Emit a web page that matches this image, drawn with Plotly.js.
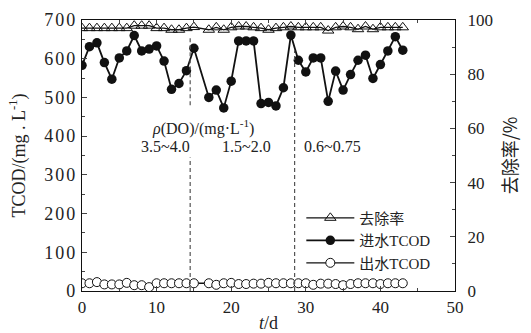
<!DOCTYPE html>
<html>
<head>
<meta charset="utf-8">
<script src="https://cdn.plot.ly/plotly-3.0.1.min.js"></script>
<style>html,body{margin:0;padding:0;background:#fff;}#chart{width:531px;height:333px;}
.ytick text{letter-spacing:2px;}</style>
</head>
<body>
<div id="chart"></div>
<script>
// ---- data ----
const days = [0,1,2,3,4,5,6,7,8,9,10,11,12,13,14,15,17,18,19,20,21,22,23,24,25,26,27,28,29,30,31,32,33,34,35,36,37,38,39,40,41,42,43];
const influentTCOD = [583,631,641,590,547,602,620,660,620,625,633,594,521,536,569,627,500,519,473,542,646,646,646,484,487,478,525,661,596,566,602,602,490,568,519,559,596,609,549,585,620,657,622];
const effluentTCOD = [20,20,23,17,17,17,21,15,15,10,20,20,20,20,20,20,20,16,20,21,18,18,19,19,21,20,20,20,20,20,16,19,19,18,15,18,20,20,20,18,20,20,20];
const removalRate = [97.0,97.0,97.0,97.0,97.0,97.0,97.0,97.9,97.9,97.9,97.0,97.0,96.4,96.4,97.0,97.4,96.4,97.3,96.4,97.3,97.6,97.6,97.3,97.0,96.4,97.0,97.3,97.6,97.3,97.3,97.3,97.3,96.1,97.3,97.6,97.3,96.6,97.6,96.6,97.3,97.3,97.3,97.3];
const seriesNames = ["去除率", "进水TCOD", "出水TCOD"];
const phaseBoundaries = [14.5, 28.5];
const phaseLabels = ["3.5~4.0", "1.5~2.0", "0.6~0.75"];
const doLabel = "<i>ρ</i>(DO)/(mg·L<sup>-1</sup>)";
const xTitle = "<i>t</i>/d";
const yTitle = "TCOD/(mg . L<sup>-1</sup>)";
const y2Title = "去除率/%";

const serif = "Liberation Serif, Times New Roman, serif";
const legendFont = "Liberation Serif, Noto Sans CJK SC, serif";
const black = "#111";

const traces = [
  {x: days, y: removalRate, yaxis: "y2", name: seriesNames[0], mode: "lines+markers",
   line: {color: black, width: 1.3},
   marker: {symbol: "triangle-up-open", size: 10, color: black, line: {width: 1}}},
  {x: days, y: influentTCOD, name: seriesNames[1], mode: "lines+markers",
   line: {color: black, width: 1.8},
   marker: {symbol: "circle", size: 9.5, color: black}},
  {x: days, y: effluentTCOD, name: seriesNames[2], mode: "lines+markers",
   line: {color: black, width: 1.3},
   marker: {symbol: "circle", size: 9, color: "#fff", line: {color: black, width: 1}}}
];

const dash = {color: "#555", width: 1.2, dash: "4px,3px"};
const shapes = [
  {type: "line", xref: "x", yref: "y", x0: phaseBoundaries[0], x1: phaseBoundaries[0], y0: 0, y1: 345, line: dash},
  {type: "line", xref: "x", yref: "y", x0: phaseBoundaries[0], x1: phaseBoundaries[0], y0: 480, y1: 659, line: dash},
  {type: "line", xref: "x", yref: "y", x0: phaseBoundaries[1], x1: phaseBoundaries[1], y0: 0, y1: 622, line: dash}
];

const annFont = {family: serif, size: 16, color: "#222"};
const annotations = [
  {xref: "paper", yref: "paper", x: 0.182, y: 0.605, text: doLabel, showarrow: false, font: annFont},
  {xref: "paper", yref: "paper", x: 0.153, y: 0.535, text: phaseLabels[0], showarrow: false, font: annFont},
  {xref: "paper", yref: "paper", x: 0.44, y: 0.535, text: phaseLabels[1], showarrow: false, font: annFont},
  {xref: "paper", yref: "paper", x: 0.753, y: 0.535, text: phaseLabels[2], showarrow: false, font: annFont}
];

const tickFont = {family: serif, size: 17, color: "#222"};
const layout = {
  width: 531, height: 333,
  margin: {l: 82, r: 76, t: 20, b: 42},
  paper_bgcolor: "#fff", plot_bgcolor: "#fff",
  showlegend: true,
  legend: {x: 0.588, y: 0.33, xanchor: "left", yanchor: "top", bgcolor: "rgba(0,0,0,0)",
           font: {family: legendFont, size: 15, color: "#222"}, tracegroupgap: 0, itemwidth: 48},
  xaxis: {range: [0, 50], tickvals: [0,10,20,30,40,50], ticks: "inside", ticklen: 5, tickwidth: 1,
          minor: {dtick: 5, tick0: 0, ticks: "inside", ticklen: 3, tickwidth: 1},
          showline: true, linecolor: black, linewidth: 1.2, mirror: "ticks", showgrid: false, zeroline: false,
          tickfont: tickFont, title: {text: xTitle, font: {family: serif, size: 18, color: "#222"}, standoff: 4}},
  yaxis: {range: [0, 700], dtick: 100, ticks: "inside", ticklen: 5, tickwidth: 1,
          minor: {dtick: 50, ticks: "inside", ticklen: 3, tickwidth: 1},
          showline: true, linecolor: black, linewidth: 1.2, showgrid: false, zeroline: false,
          tickfont: {family: serif, size: 18, color: "#222"},
          title: {text: yTitle, font: {family: serif, size: 18, color: "#222"}, standoff: 14}},
  yaxis2: {range: [0, 100], dtick: 20, overlaying: "y", side: "right", ticks: "inside", ticklen: 5, tickwidth: 1,
           minor: {dtick: 10, ticks: "inside", ticklen: 3, tickwidth: 1},
           showline: true, linecolor: black, linewidth: 1.2, showgrid: false, zeroline: false,
           tickfont: tickFont, ticklabelstandoff: 8,
           title: {text: y2Title, font: {family: "Noto Sans CJK SC, " + serif, size: 18, color: "#222"}, standoff: 12}},
  shapes: shapes,
  annotations: annotations
};

Plotly.newPlot("chart", traces, layout, {displayModeBar: false, staticPlot: true});
</script>
</body>
</html>
